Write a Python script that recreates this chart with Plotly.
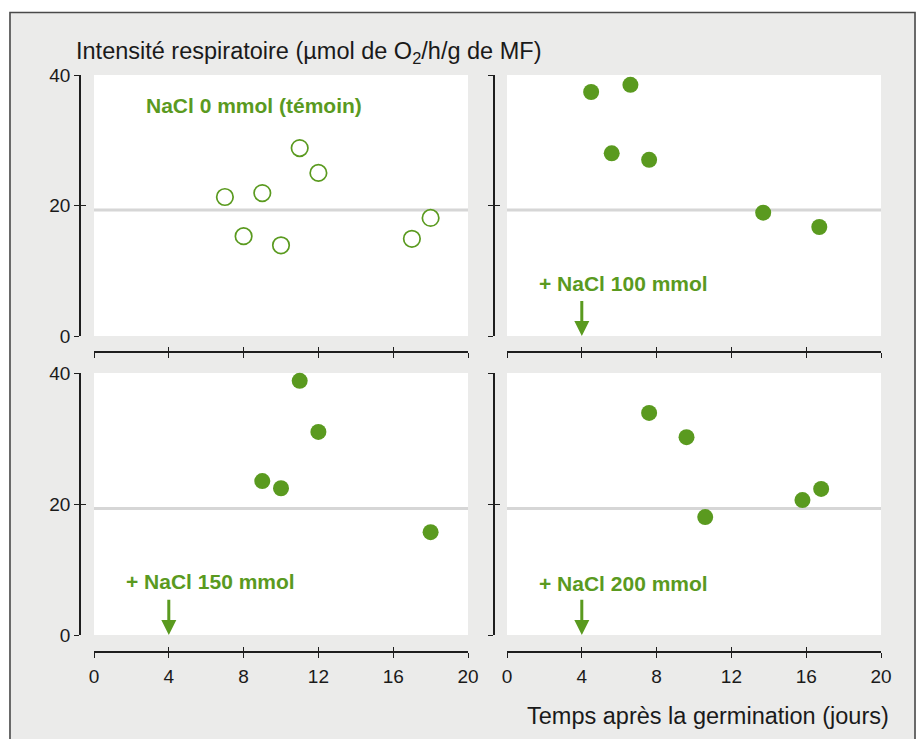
import plotly.graph_objects as go

# The page body has an 8px margin; the figure fills the rest of the 924x747 window.
OFF = 8
W, H = 924 - 2 * OFF, 747 - 2 * OFF
GREEN = "#5a9a1f"
AXIS = "#1e1e1e"
BG = "#ebebea"
REF_LEVEL = 19.3

# Panel data (days after germination, respiratory intensity)
x_ctrl = [7, 8, 9, 10, 11, 12, 17, 18]
y_ctrl = [21.3, 15.3, 21.9, 13.9, 28.8, 25.0, 14.9, 18.1]

x_100 = [4.5, 6.6, 5.6, 7.6, 13.7, 16.7]
y_100 = [37.4, 38.5, 28.0, 27.0, 18.9, 16.7]

x_150 = [11.0, 12.0, 9.0, 10.0, 18.0]
y_150 = [38.8, 31.0, 23.5, 22.4, 15.7]

x_200 = [7.6, 9.6, 10.6, 15.8, 16.8]
y_200 = [33.9, 30.2, 18.0, 20.6, 22.3]

x_ticks = [0, 4, 8, 12, 16, 20]
y_ticks = [0, 20, 40]
treat_day = 4
labels = ["NaCl 0 mmol (témoin)", "+ NaCl 100 mmol", "+ NaCl 150 mmol", "+ NaCl 200 mmol"]

def px(v):
    return (v - OFF) / W

def py(v):
    return 1 - (v - OFF) / H

# panel geometry in window pixels
panels = [
    dict(x0=94, x1=468, y0=75, y1=336, yaxis_x=80, xaxis_y=352, xlab=False, ylab=True),
    dict(x0=507, x1=881, y0=75, y1=336, yaxis_x=494, xaxis_y=352, xlab=False, ylab=False),
    dict(x0=94, x1=468, y0=373, y1=635, yaxis_x=80, xaxis_y=652, xlab=True, ylab=True),
    dict(x0=507, x1=881, y0=373, y1=635, yaxis_x=494, xaxis_y=652, xlab=True, ylab=False),
]

fig = go.Figure()
series = [(x_ctrl, y_ctrl, True), (x_100, y_100, False), (x_150, y_150, False), (x_200, y_200, False)]

layout = dict(
    width=W, height=H, autosize=False,
    margin=dict(l=0, r=0, t=0, b=0, pad=0, autoexpand=False),
    paper_bgcolor=BG, plot_bgcolor="white", showlegend=False,
    font=dict(family="Liberation Sans, Arial, sans-serif", color="#1a1a1a", size=19),
)
shapes = []
annotations = []

for i, (p, (xs, ys, open_)) in enumerate(zip(panels, series)):
    n = i + 1
    m = i + 5
    xa = "x" if n == 1 else f"x{n}"
    ya = "y" if n == 1 else f"y{n}"
    xk = "xaxis" if n == 1 else f"xaxis{n}"
    yk = "yaxis" if n == 1 else f"yaxis{n}"
    xdom = [px(p["x0"]), px(p["x1"])]
    ydom = [py(p["y1"]), py(p["y0"])]
    common = dict(showgrid=False, zeroline=False, showline=True, linecolor=AXIS, linewidth=1.6,
                  ticklen=5, tickwidth=1.4, tickcolor=AXIS, anchor="free", automargin=False)
    layout[xk] = dict(domain=xdom, range=[0, 20], tickvals=x_ticks, ticks="outside",
                      position=py(p["xaxis_y"]), showticklabels=p["xlab"], ticklabelstandoff=2,
                      **common)
    layout[yk] = dict(domain=ydom, range=[0, 40], tickvals=y_ticks, ticks="outside",
                      position=px(p["yaxis_x"]), showticklabels=p["ylab"], **common)
    # inner halves of the crossing ticks
    layout[f"xaxis{m}"] = dict(overlaying=xa, range=[0, 20], tickvals=x_ticks, ticks="inside",
                               position=py(p["xaxis_y"]), showticklabels=False,
                               **{**common, "showline": False})
    layout[f"yaxis{m}"] = dict(overlaying=ya, range=[0, 40], tickvals=y_ticks, ticks="inside",
                               position=px(p["yaxis_x"]), showticklabels=False,
                               **{**common, "showline": False})
    fig.add_trace(go.Scatter(x=[], y=[], xaxis=f"x{m}", yaxis=f"y{m}", hoverinfo="skip"))

    shapes.append(dict(type="line", xref=f"{xa} domain", yref=ya, x0=0, x1=1,
                       y0=REF_LEVEL, y1=REF_LEVEL, line=dict(color="#d6d6d6", width=3), layer="below"))
    if open_:
        marker = dict(symbol="circle", size=16.5, color="white", line=dict(color=GREEN, width=1.7))
    else:
        marker = dict(symbol="circle", size=16, color=GREEN, line=dict(width=0))
    fig.add_trace(go.Scatter(x=xs, y=ys, mode="markers", marker=marker, xaxis=xa, yaxis=ya,
                             cliponaxis=False))
    if i == 0:
        annotations.append(dict(x=2.65, y=35.4, xref=xa, yref=ya, text=f"<b>{labels[i]}</b>",
                                showarrow=False, xanchor="left", yanchor="middle",
                                font=dict(color=GREEN, size=21)))
    else:
        ty = 8.1 if i == 1 else (8.2 if i == 2 else 7.9)
        annotations.append(dict(x=1.6, y=ty, xref=xa, yref=ya, text=f"<b>{labels[i]}</b>",
                                showarrow=False, xanchor="left", yanchor="middle",
                                font=dict(color=GREEN, size=21)))
        annotations.append(dict(x=treat_day, y=0, xref=xa, yref=ya, ax=treat_day, ay=5.6,
                                axref=xa, ayref=ya, text="", showarrow=True, arrowhead=2,
                                arrowsize=1.0, arrowwidth=3, arrowcolor=GREEN, standoff=0))

annotations.append(dict(x=px(74), y=py(52), xref="paper", yref="paper",
                        text="Intensité respiratoire (µmol de O<sub>2</sub>/h/g de MF)",
                        showarrow=False, xanchor="left", yanchor="middle", font=dict(size=23.5)))
annotations.append(dict(x=px(891), y=py(716), xref="paper", yref="paper",
                        text="Temps après la germination (jours)",
                        showarrow=False, xanchor="right", yanchor="middle", font=dict(size=23.5)))

# white margin outside the frame and the frame border
shapes += [
    dict(type="rect", xref="paper", yref="paper", x0=0, x1=1, y0=py(12), y1=1,
         fillcolor="white", line=dict(width=0)),
    dict(type="rect", xref="paper", yref="paper", x0=0, x1=px(9), y0=0, y1=1,
         fillcolor="white", line=dict(width=0)),
    dict(type="rect", xref="paper", yref="paper", x0=px(10), x1=px(915), y0=-0.02, y1=py(12.5),
         fillcolor="rgba(0,0,0,0)", line=dict(color="#4a4a4a", width=1.6)),
]
layout["shapes"] = shapes
layout["annotations"] = annotations
fig.update_layout(**layout)
fig.write_html("out.html")
